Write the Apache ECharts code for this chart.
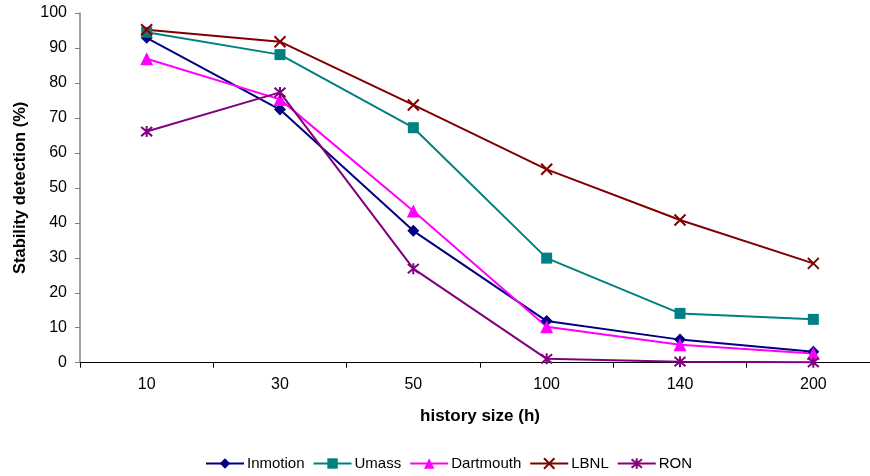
<!DOCTYPE html>
<html><head><meta charset="utf-8">
<script src="https://cdn.jsdelivr.net/npm/echarts@6/dist/echarts.min.js"></script>
<style>html,body{margin:0;padding:0;background:#fff}#c{width:870px;height:476px}</style>
</head><body><div id="c"></div>
<script>
const categories = ['10', '30', '50', '100', '140', '200'];
const inmotion = [92.9, 72.4, 37.7, 11.9, 6.6, 3.1];
const umass = [94.5, 88.1, 67.2, 29.9, 14.1, 12.4];
const dartmouth = [86.9, 75.3, 43.4, 10.3, 5.1, 2.6];
const lbnl = [95.2, 91.8, 73.7, 55.3, 40.8, 28.4];
const ron = [66.1, 77.3, 26.9, 1.1, 0.3, 0.1];
const yTicks = [0, 10, 20, 30, 40, 50, 60, 70, 80, 90, 100];

const font = 'Liberation Sans, Arial, sans-serif';
const xPath = 'path://M0,0L10,10M10,0L0,10';
const starPath = 'path://M0,0L10,10M10,0L0,10M5,-1L5,11';

function mk(name, data, color, symbol, size, stroke) {
  return {
    name, type: 'line', data, symbol, symbolSize: size,
    lineStyle: { color, width: 2 },
    itemStyle: stroke ? { color: 'rgba(0,0,0,0)', borderColor: color, borderWidth: 2 } : { color },
    emphasis: { disabled: true },
    z: 2
  };
}

const chart = echarts.init(document.getElementById('c'));
chart.setOption({
  animation: false,
  textStyle: { fontFamily: font },
  grid: { left: 80, top: 13, width: 800, height: 349.7, outerBoundsMode: 'none', containLabel: false },
  xAxis: {
    type: 'category', data: categories, boundaryGap: true,
    name: 'history size (h)', nameLocation: 'middle', nameGap: 45,
    nameTextStyle: { fontFamily: font, fontSize: 17, fontWeight: 'bold', color: '#000' },
    axisLine: { lineStyle: { color: '#000', width: 1 } },
    axisTick: { show: true, length: 5, lineStyle: { color: '#000' } },
    axisLabel: { fontFamily: font, fontSize: 16, color: '#000', margin: 14 },
    splitLine: { show: false }
  },
  yAxis: {
    type: 'value', min: 0, max: 100, interval: 10,
    name: 'Stability detection (%)', nameLocation: 'middle', nameGap: 51, nameRotate: 90,
    nameTextStyle: { fontFamily: font, fontSize: 16.5, fontWeight: 'bold', color: '#000' },
    axisLine: { show: true, lineStyle: { color: '#808080', width: 1.5 } },
    axisTick: { show: true, length: 5, lineStyle: { color: '#808080' } },
    axisLabel: { fontFamily: font, fontSize: 16, color: '#000', margin: 13,
      formatter: v => yTicks.includes(v) ? String(v) : '' },
    splitLine: { show: false }
  },
  legend: {
    bottom: 0, left: 200, itemWidth: 38, itemHeight: 13, itemGap: 8,
    textStyle: { fontFamily: font, fontSize: 15, color: '#000', padding: [0,0,0,-2] },
    data: ['Inmotion', 'Umass', 'Dartmouth', 'LBNL', 'RON']
  },
  series: [
    mk('Inmotion', inmotion, '#000080', 'diamond', 12),
    mk('Umass', umass, '#008080', 'rect', 11),
    mk('Dartmouth', dartmouth, '#FF00FF', 'triangle', 13),
    mk('LBNL', lbnl, '#800000', xPath, 11, true),
    mk('RON', ron, '#800080', starPath, 11, true)
  ]
});
</script></body></html>
